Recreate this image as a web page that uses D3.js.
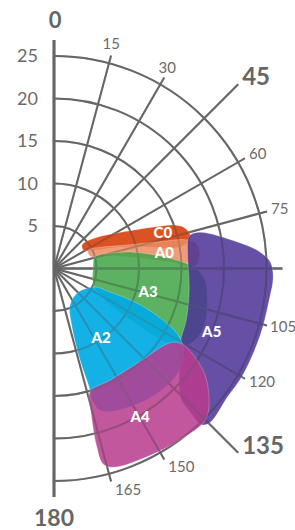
<!DOCTYPE html>
<html><head><meta charset="utf-8">
<script src="https://cdn.jsdelivr.net/npm/d3@7"></script>
<style>body{margin:0;background:#fff;} svg{display:block;font-family:Lato,"Open Sans",sans-serif;}</style>
</head><body><svg id="c" width="295" height="530"></svg>
<script>
// ---- data ----
const radialTicks = [5, 10, 15, 20, 25];
const spokeAngles = [15, 30, 45, 60, 75, 90, 105, 120, 135, 150, 165];
const angleLabels = [15, 30, 60, 75, 105, 120, 150, 165];
const boldAngleLabels = [45, 135];
const axisLabels = ["0", "180"];
const seriesNames = ["C0", "A0", "A3", "A5", "A2", "A4"];
// polygons: [angle in degrees (clockwise from 0 at top), radial value]
const C0 = [[50.0,4.3],[53.4,6.0],[62.5,9.4],[68.0,13.2],[70.2,15.1],[72.8,16.1],[76.2,16.5],[79.2,16.0],[80.4,14.4],[77.4,11.6],[72.0,8.2],[65.7,5.3],[58.3,4.1]];
const A0 = [[61.5,4.6],[65.5,6.0],[72.0,8.9],[75.8,12.9],[77.6,15.8],[80.0,17.0],[84.7,17.2],[89.0,16.6],[86.8,13.7],[83.0,10.2],[77.4,6.8],[73.2,4.7],[68.0,4.4]];
const A3 = [[74.3,5.0],[75.0,6.8],[77.8,9.2],[84.1,13.1],[89.0,16.2],[93.6,17.7],[101.6,18.4],[110.6,18.9],[116.9,18.6],[122.3,17.3],[123.9,13.6],[123.4,9.3],[120.1,6.2],[110.4,4.9],[89.3,4.6]];
const A5 = [[76.2,16.5],[76.1,17.7],[81.8,21.8],[85.4,24.3],[88.5,25.5],[92.5,25.8],[97.8,25.6],[107.9,25.5],[119.4,25.5],[126.8,25.4],[134.5,25.8],[136.6,25.3],[136.5,23.3],[135.6,21.3],[126.0,18.3],[120.3,17.2],[111.3,16.7],[99.0,16.1],[84.2,15.8],[78.0,16.1]];
const A2 = [[114.3,5.3],[112.8,7.1],[112.5,10.3],[115.0,13.8],[118.2,16.6],[122.1,18.0],[128.9,19.0],[138.4,19.1],[150.4,18.6],[161.4,17.7],[163.9,16.1],[163.5,14.9],[164.1,11.2],[162.9,7.2],[156.3,4.7],[134.4,4.0]];
const A4 = [[163.7,15.1],[153.3,14.7],[137.4,14.9],[122.7,16.2],[120.5,17.5],[124.3,21.2],[129.7,23.7],[135.1,25.2],[143.7,25.0],[153.7,24.7],[163.4,24.4],[165.9,23.7],[166.5,21.6],[165.6,17.6]];
const labelAngles = [71.5, 82.0, 104.0, 111.9, 145.5, 149.9];
const labelValues = [13.5, 13.1, 11.4, 20.0, 9.8, 20.2];

// ---- styles ----
const polys = {C0, A0, A3, A5, A2, A4};
const colors = {C0:"#d63a05", A0:"#ec8c62", A3:"#3fa445", A5:"#4a3196", A2:"#00aae4", A4:"#b83a8d"};
const opac = {C0:0.88, A0:0.85, A3:0.85, A5:0.85, A2:0.92, A4:0.85};
const gridColor = "#666";

const svg = d3.select("#c");
const cx = 54, cy = 268.5;
const r = d3.scaleLinear().domain([0, 25]).range([0, 212.5]);
const a = d3.scaleLinear().domain([0, 180]).range([0, Math.PI]);
const g = svg.append("g").attr("transform", `translate(${cx},${cy})`);

function spokeLen(ang) {
  if (ang === 90) return r(25) + 16;
  if (ang === 45 || ang === 135) return r(25) + 48;
  return r(25) + 8;
}
function drawGrid(parent, opacity) {
  const gg = parent.append("g").attr("opacity", opacity);
  radialTicks.forEach(t => {
    const p = d3.path();
    p.moveTo(0, -r(t));
    p.arc(0, 0, r(t), -Math.PI / 2, Math.PI / 2, false);
    gg.append("path").attr("d", p.toString()).attr("fill", "none")
      .attr("stroke", gridColor).attr("stroke-width", 2);
  });
  spokeAngles.forEach(ang => {
    const L = spokeLen(ang), th = a(ang);
    gg.append("line").attr("x1", 0).attr("y1", 0)
      .attr("x2", Math.sin(th) * L).attr("y2", -Math.cos(th) * L)
      .attr("stroke", gridColor).attr("stroke-width", ang === 90 ? 2.6 : 2);
  });
  gg.append("line").attr("x1", 0).attr("x2", 0)
    .attr("y1", -(r(25) + 16)).attr("y2", r(25) + 16)
    .attr("stroke", gridColor).attr("stroke-width", 3);
}
drawGrid(g, 1);

const line = d3.lineRadial()
  .angle(d => a(d[0])).radius(d => r(d[1]))
  .curve(d3.curveCatmullRomClosed.alpha(0.5));

seriesNames.forEach(n => {
  g.append("path").attr("d", line(polys[n]))
    .attr("fill", colors[n]).attr("fill-opacity", opac[n])
    .attr("stroke", "#fff").attr("stroke-opacity", 0.35).attr("stroke-width", 0.7);
});

drawGrid(g, 0.3);

// series labels
seriesNames.forEach((n, i) => {
  const th = a(labelAngles[i]), rr = r(labelValues[i]);
  g.append("text").attr("x", Math.sin(th) * rr).attr("y", -Math.cos(th) * rr)
    .attr("dy", "0.36em").attr("text-anchor", "middle")
    .attr("fill", "#fff").attr("font-weight", 900).attr("font-size", 15)
    .text(n);
});

// radial tick labels
radialTicks.forEach(t => {
  g.append("text").attr("x", -16).attr("y", -r(t)).attr("dy", "0.36em")
    .attr("text-anchor", "end").attr("fill", "#6b6b6b").attr("font-size", 18).text(t);
});

// angle labels
angleLabels.forEach(ang => {
  const th = a(ang), L = spokeLen(ang);
  const ex = Math.sin(th) * L, ey = -Math.cos(th) * L;
  const t = g.append("text").attr("fill", "#6b6b6b").attr("font-size", 15)
    .attr("dy", "0.36em").text(ang);
  if (ang < 45) t.attr("text-anchor", "middle").attr("x", ex + 12 * Math.sin(th) - 3).attr("y", ey - 12 * Math.cos(th));
  else t.attr("text-anchor", "start").attr("x", ex + (ang === 105 ? 3 : 4)).attr("y", ey - 10 * Math.cos(th) - (ang > 90 ? 2 : 0));
});
boldAngleLabels.forEach(ang => {
  const th = a(ang), L = spokeLen(ang);
  const ex = Math.sin(th) * L, ey = -Math.cos(th) * L;
  g.append("text").attr("fill", "#666").attr("font-size", 24).attr("font-weight", 700)
    .attr("text-anchor", "start").attr("x", ex + 4).attr("y", ey - 7.5).attr("dy", "0.36em")
    .text(ang);
});
g.append("text").attr("fill", "#666").attr("font-size", 22).attr("font-weight", 700)
  .attr("text-anchor", "middle").attr("x", 1).attr("y", -r(25) - 36).attr("dy", "0.36em").text(axisLabels[0]);
g.append("text").attr("fill", "#666").attr("font-size", 23).attr("font-weight", 700)
  .attr("text-anchor", "middle").attr("x", 0).attr("y", r(25) + 249 - 212.5).attr("dy", "0.36em").text(axisLabels[1]);
</script></body></html>
